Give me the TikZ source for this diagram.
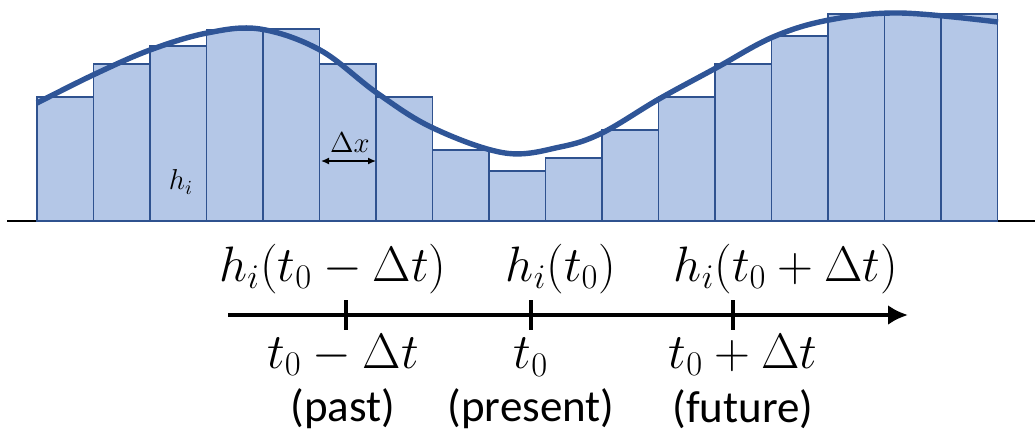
\documentclass[tikz,border=0pt]{standalone}
\usepackage{fontspec}
\newfontfamily\labelfont{Carlito}
\usetikzlibrary{arrows.meta}
\definecolor{barFill}{RGB}{180,199,231}
\definecolor{barLine}{RGB}{47,82,143}
\definecolor{curveLine}{RGB}{47,85,151}
\tikzset{
  cell/.style={draw=barLine, fill=barFill, line width=0.7pt},
  profile/.style={draw=curveLine, line width=2.7pt},
  ground/.style={draw=black, line width=0.7pt},
  timeaxis/.style={-{Latex[length=10pt,width=10pt]}, line width=2.2pt},
  tickmark/.style={line width=1.6pt},
  spanarrow/.style={{Latex[length=4pt,width=3.5pt]}-{Latex[length=4pt,width=3.5pt]}, line width=0.7pt},
  mathlabel/.style={font=\fontsize{23.5}{28}\selectfont, inner sep=0pt},
  smalllabel/.style={font=\fontsize{14}{17}\selectfont, inner sep=0pt},
  wordlabel/.style={font=\labelfont\fontsize{22.5}{27}\selectfont, inner sep=0pt}
}
\begin{document}
\begin{tikzpicture}[x=0.5pt, y=-0.5pt]
  \useasboundingbox (0,0) rectangle (1035,435);

  % ground line and bars
  \draw[ground] (7,221) -- (1035,221);
  \foreach \h [count=\i from 0] in {124,157,175,191,192,157,124,71,50,63,91,124,157,185,207,207,207}
    \draw[cell] ({37+56.5*\i},221) rectangle ++(56.5,-\h);

  % smooth profile
  \draw[profile] plot[smooth, tension=0.6] coordinates {
    (37,103) (93,75) (150,50) (207,33) (260,29) (320,50) (377,93) (433,128)
    (505,153) (560,147) (602,133) (659,99) (716,68) (773,37) (829,20) (900,13) (998,22)};

  \node[smalllabel] (hiLabel) at (181,182) {$h_i$};
  \node[smalllabel] (dxLabel) at (350,143) {$\Delta x$};
  \coordinate (dxLeft) at (321,161);
  \coordinate (dxRight) at (376,161);
  \draw[spanarrow] (dxLeft) -- (dxRight);

  % time axis
  \coordinate (axisStart) at (228,315);
  \coordinate (axisEnd) at (908,315);
  \coordinate (tPast) at (346,315);
  \coordinate (tNow) at (531,315);
  \coordinate (tNext) at (733,315);
  \draw[timeaxis] (axisStart) -- (axisEnd);
  \foreach \t in {tPast, tNow, tNext}
    \draw[tickmark] (\t) ++(0,-15) -- ++(0,30);

  \node[mathlabel] (hPast) at (333,269) {$h_i(t_0-\Delta t)$};
  \node[mathlabel] (hNow) at (561,269) {$h_i(t_0)$};
  \node[mathlabel] (hNext) at (786,269) {$h_i(t_0+\Delta t)$};

  \node[mathlabel] (tPastLabel) at (343,355) {$t_0-\Delta t$};
  \node[mathlabel] (tNowLabel) at (531,357) {$t_0$};
  \node[mathlabel] (tNextLabel) at (743,355) {$t_0+\Delta t$};

  \node[wordlabel] (pastWord) at (343,409) {(past)};
  \node[wordlabel] (nowWord) at (531,409) {(present)};
  \node[wordlabel] (nextWord) at (743,409) {(future)};
\end{tikzpicture}
\end{document}
